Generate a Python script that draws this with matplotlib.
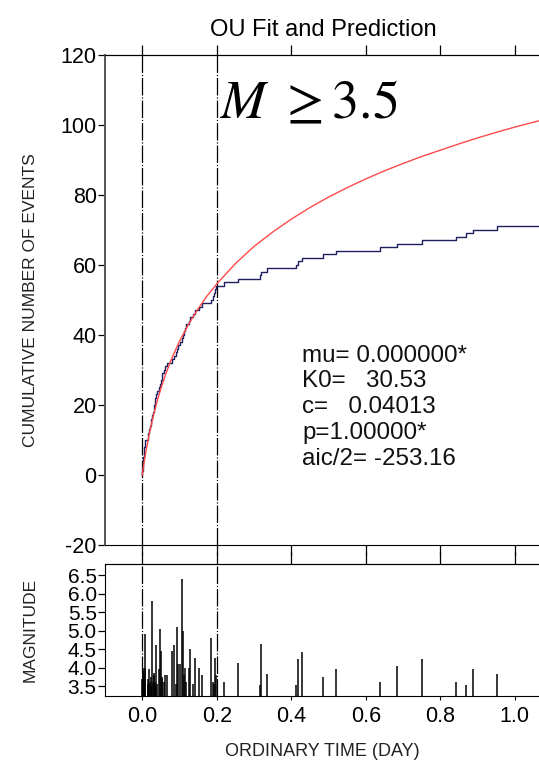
import numpy as np
import matplotlib
matplotlib.use("Agg")
import matplotlib.pyplot as plt

plt.rcParams['font.family'] = ['Liberation Sans', 'DejaVu Sans']
plt.rcParams['mathtext.fontset'] = 'stix'
plt.rcParams['axes.unicode_minus'] = False

# event times (day) and magnitudes
early_t = [0.0005, 0.0010, 0.0015, 0.0020, 0.0028, 0.0035, 0.0046, 0.0055, 0.0064, 0.0082,
           0.0144, 0.0160, 0.0180, 0.0200, 0.0225, 0.0240, 0.0270, 0.0296, 0.0310, 0.0323,
           0.0330, 0.0345, 0.0368, 0.0403, 0.0439, 0.0466, 0.0502, 0.0520, 0.0538, 0.0573,
           0.0618, 0.0654, 0.0806, 0.0842, 0.0904, 0.0940, 0.0967, 0.1003, 0.1066, 0.1101,
           0.1130, 0.1155, 0.1180, 0.1250, 0.1289, 0.1370, 0.1415, 0.1522, 0.1603, 0.1836,
           0.1890, 0.1925, 0.1960, 0.1990]
early_m = [3.7, 3.9, 3.6, 4.0, 3.8, 3.5, 3.75, 3.6, 4.0, 4.9,
           3.55, 3.7, 3.95, 3.6, 3.75, 3.5, 5.8, 3.6, 3.8, 3.85,
           3.5, 3.6, 4.6, 3.55, 3.95, 5.05, 4.45, 3.7, 3.75, 3.6,
           3.8, 3.8, 4.45, 4.6, 3.55, 5.1, 4.1, 4.1, 6.4, 5.0,
           3.8, 4.0, 3.6, 4.0, 4.5, 3.55, 4.25, 4.0, 3.8, 4.8,
           3.6, 3.55, 4.25, 3.8]
late_t = [0.219, 0.258, 0.315, 0.320, 0.336, 0.412, 0.418, 0.430, 0.484,
          0.519, 0.638, 0.685, 0.751, 0.842, 0.868, 0.889, 0.952]
late_m = [3.62, 4.12, 3.53, 4.63, 3.82, 3.53, 4.22, 4.42, 3.74,
          3.95, 3.62, 4.04, 4.22, 3.62, 3.53, 3.95, 3.82]

# OU fit curve
fit_t = [0, 0.005, 0.01, 0.02, 0.03, 0.04, 0.05, 0.0625, 0.075, 0.0875, 0.1, 0.125,
         0.15, 0.175, 0.2, 0.25, 0.3, 0.35, 0.4, 0.45, 0.5, 0.55, 0.6, 0.65, 0.7,
         0.75, 0.8, 0.85, 0.9, 0.95, 1.0, 1.065]
fit_n = [0, 3.6, 6.8, 12.3, 17.0, 21.1, 24.7, 28.7, 32.2, 35.3, 38.2, 43.2,
         47.5, 51.3, 54.6, 60.4, 65.3, 69.4, 73.1, 76.4, 79.4, 82.1, 84.6, 86.9, 89.0,
         91.0, 92.8, 94.6, 96.3, 97.9, 99.4, 101.2]

params = "mu= 0.000000*\nK0=   30.53\nc=   0.04013\np=1.00000*\naic/2= -253.16"
xticks = [0.0, 0.2, 0.4, 0.6, 0.8, 1.0]
xmin, xmax = -0.1, 1.065

times = np.array(early_t + late_t)
mags = np.array(early_m + late_m)
order = np.argsort(times)
times, mags = times[order], mags[order]
counts = np.arange(1, len(times) + 1)

fig = plt.figure(figsize=(5.39, 7.65), dpi=100)
ax = fig.add_axes([0.1948, 0.2876, 0.8052, 0.6405])
ax2 = fig.add_axes([0.1948, 0.0902, 0.8052, 0.1725])

vl_style = dict(color='black', lw=0.9, dashes=(14, 1.5, 1, 1.5))

# cumulative plot
ax.step(np.r_[0, times, xmax], np.r_[0, counts, counts[-1]], where='post',
        color='#1f1f5f', lw=1.0, zorder=3)
ax.plot(fit_t, fit_n, color='#ff4a4a', lw=1.0, zorder=4)
for xv in (0.0, 0.2):
    ax.axvline(xv, **vl_style)
ax.set_xlim(xmin, xmax)
ax.set_ylim(-20, 120)
ax.set_yticks(range(-20, 121, 20))
ax.set_xticks(xticks)
ax.tick_params(axis='x', bottom=True, labelbottom=False,
               direction='out', length=7, width=0.9)
ax.tick_params(axis='y', direction='out', length=5, width=0.9, labelsize=15.5, pad=1)
ax.spines['right'].set_visible(False)
ax.spines['left'].set_color('#555555')
ax.spines['left'].set_linewidth(1.4)
ax.set_ylabel('CUMULATIVE NUMBER OF EVENTS', fontsize=12.5, color='#222222')
ax.text(0.21, 106, r'$M\ \geq 3.5$', fontsize=39, va='center', ha='left')
ax.text(0.43, 19.4, params, fontsize=17.4, va='center', ha='left', linespacing=1.22,
        color='#111111')

ax_top = ax.secondary_xaxis('top')
ax_top.set_xticks(xticks)
ax_top.tick_params(direction='out', length=7, width=0.9, labeltop=False)

# magnitude plot
ax2.set_xlim(xmin, xmax)
ax2.set_ylim(3.23, 6.8)
ax2.vlines(times, 3.23, mags, color='black', lw=1.1)
for xv in (0.0, 0.2):
    ax2.axvline(xv, **vl_style)
ax2.set_xticks(xticks)
ax2.set_xticklabels([f'{v:.1f}' for v in xticks])
ax2.set_yticks(np.arange(3.5, 6.51, 0.5))
ax2.tick_params(axis='x', direction='out', length=3, width=0.8, labelsize=15.5, pad=4)
ax2.tick_params(axis='y', direction='out', length=5, width=0.9, labelsize=15, pad=1)
ax2.spines['right'].set_visible(False)
ax2.set_ylabel('MAGNITUDE', fontsize=12.5, color='#222222')
ax2.set_xlabel('ORDINARY TIME (DAY)', fontsize=13, color='#222222', labelpad=12)

ax2_top = ax2.secondary_xaxis('top')
ax2_top.set_xticks(xticks)
ax2_top.tick_params(direction='out', length=9, width=0.9, labeltop=False)

ax.yaxis.set_label_coords(-0.155, 0.5)
ax2.yaxis.set_label_coords(-0.155, 0.5)

fig.text(0.6, 0.961, 'OU Fit and Prediction', fontsize=17, ha='center', va='center')

fig.savefig('out.png', dpi=100)
